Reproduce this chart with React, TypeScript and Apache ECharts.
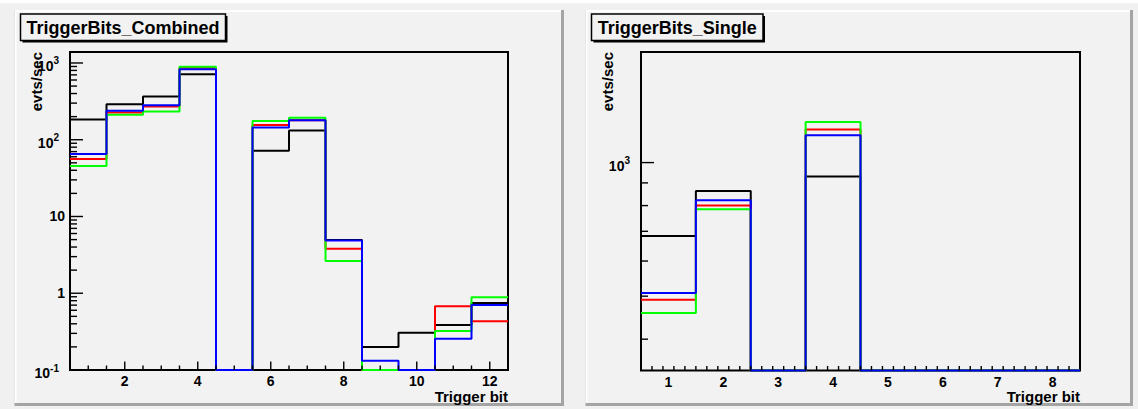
import React, { useEffect, useRef } from "react";
import * as echarts from "echarts";

// ---------------- data ----------------
const combinedBins = [1, 2, 3, 4, 5, 6, 7, 8, 9, 10, 11, 12];
const combinedBlack = [184, 291, 365, 713, 0, 72, 132, 4.95, 0.2, 0.305, 0.387, 0.748];
const combinedRed = [56, 226, 270, 869, 0, 155, 180, 3.8, 0, 0, 0.678, 0.433];
const combinedGreen = [45.5, 211, 233, 895, 0, 175, 193, 2.63, 0, 0, 0.321, 0.887];
const combinedBlue = [65, 238, 282, 828, 0, 144, 180, 4.88, 0.132, 0, 0.255, 0.705];

const singleBins = [1, 2, 3, 4, 5, 6, 7, 8];
const singleBlack = [683, 863, 0, 930, 0, 0, 0, 0];
const singleRed = [491, 800, 0, 1188, 0, 0, 0, 0];
const singleGreen = [458, 785, 0, 1234, 0, 0, 0, 0];
const singleBlue = [508, 822, 0, 1152, 0, 0, 0, 0];

const seriesColors = ["#000000", "#ff0000", "#00ff00", "#0000ff"];

const combinedXRange = [0.5, 12.5];
const combinedYRange = [0.1, 1390];
const singleXRange = [0.5, 8.5];
const singleYRange = [340, 1775];

const combinedXMajor = [2, 4, 6, 8, 10, 12];
const combinedXLabels = ["2", "4", "6", "8", "10", "12"];
const combinedXMinorStep = 0.5;
const combinedYMajor = [0.1, 1, 10, 100, 1000];
const combinedYLabelBase = ["10", "1", "10", "10", "10"];
const combinedYLabelExp = ["-1", "", "", "2", "3"];

const singleXMajor = [1, 2, 3, 4, 5, 6, 7, 8];
const singleXLabels = ["1", "2", "3", "4", "5", "6", "7", "8"];
const singleXMinorStep = 0.2;
const singleYMajor = [1000];
const singleYLabelBase = ["10"];
const singleYLabelExp = ["3"];

const titles = ["TriggerBits_Combined", "TriggerBits_Single"];
const xTitle = "Trigger bit";
const yTitle = "evts/sec";

// ---------------- helpers ----------------
const FONT = '"Liberation Sans", Arial, Helvetica, sans-serif';

function textWidth(str: string, font: string): number {
  const c = document.createElement("canvas");
  const ctx = c.getContext("2d");
  if (!ctx) return str.length * 6;
  ctx.font = font;
  return ctx.measureText(str).width;
}

function stepPoints(bins: number[], vals: number[], ymin: number) {
  const pts: number[][] = [];
  bins.forEach((b, i) => {
    const v = vals[i] > ymin ? vals[i] : ymin;
    pts.push([b - 0.5, v], [b + 0.5, v]);
  });
  return pts;
}

function tickItems(
  xr: number[],
  yr: number[],
  xMajor: number[],
  xMinorStep: number,
  yMajor: number[],
  xMajLen: number,
  xMinLen: number,
  yMajLen: number,
  yMinLen: number
) {
  const items: number[][] = [];
  const eps = 1e-6;
  const n = Math.round((xr[1] - xr[0]) / xMinorStep);
  for (let i = 1; i < n; i++) {
    const x = xr[0] + i * xMinorStep;
    const isMajor = xMajor.some((m) => Math.abs(m - x) < eps);
    items.push([x, yr[0], isMajor ? xMajLen : xMinLen, 0]);
  }
  const eLo = Math.floor(Math.log10(yr[0]));
  const eHi = Math.ceil(Math.log10(yr[1]));
  for (let e = eLo; e <= eHi; e++) {
    for (let k = 1; k <= 9; k++) {
      const v = k * Math.pow(10, e);
      if (v < yr[0] * (1 - eps) || v > yr[1] * (1 + eps)) continue;
      const isMajor = yMajor.some((m) => Math.abs(m - v) / m < eps);
      items.push([xr[0], v, isMajor ? yMajLen : yMinLen, 1]);
    }
  }
  return items;
}

function makePanel(
  idx: number,
  bins: number[],
  lines: number[][],
  xr: number[],
  yr: number[],
  xMajor: number[],
  xLabels: string[],
  xMinorStep: number,
  yMajor: number[],
  yBase: string[],
  yExp: string[],
  xMajLen: number
) {
  const series: any[] = [];
  lines.forEach((vals, i) => {
    series.push({
      type: "line",
      xAxisIndex: idx,
      yAxisIndex: idx,
      data: stepPoints(bins, vals, yr[0]),
      showSymbol: false,
      symbol: "none",
      clip: false,
      z: 3 + i,
      lineStyle: { color: seriesColors[i], width: 2 },
      itemStyle: { color: seriesColors[i] },
    });
  });
  const ticks = tickItems(xr, yr, xMajor, xMinorStep, yMajor, xMajLen, 4.5, 13, 7);
  series.push({
    type: "custom",
    xAxisIndex: idx,
    yAxisIndex: idx,
    data: ticks,
    z: 10,
    silent: true,
    renderItem: (params: any, api: any) => {
      const x = api.value(0);
      const y = api.value(1);
      const len = api.value(2);
      const dir = api.value(3);
      const p = api.coord([x, y]);
      const shape =
        dir === 0
          ? { x1: p[0], y1: p[1], x2: p[0], y2: p[1] - len }
          : { x1: p[0], y1: p[1], x2: p[0] + len, y2: p[1] };
      return { type: "line", shape, style: { stroke: "#000", lineWidth: 1.4 } };
    },
  });
  const labelData: number[][] = [];
  xMajor.forEach((x, i) => labelData.push([x, yr[0], 0, i]));
  yMajor.forEach((y, i) => labelData.push([xr[0], y, 1, i]));
  const baseFont = `bold 14px ${FONT}`;
  const supFont = `bold 10px ${FONT}`;
  series.push({
    type: "custom",
    xAxisIndex: idx,
    yAxisIndex: idx,
    data: labelData,
    z: 10,
    silent: true,
    renderItem: (params: any, api: any) => {
      const x = api.value(0);
      const y = api.value(1);
      const dir = api.value(2);
      const li = api.value(3);
      const p = api.coord([x, y]);
      if (dir === 0) {
        return {
          type: "text",
          x: p[0],
          y: p[1] + 11,
          style: { text: xLabels[li], font: baseFont, fill: "#000", align: "center", verticalAlign: "middle" },
        };
      }
      const exp = yExp[li];
      if (!exp) {
        return {
          type: "text",
          x: p[0] - 5,
          y: p[1],
          style: { text: yBase[li], font: baseFont, fill: "#000", align: "right", verticalAlign: "middle" },
        };
      }
      const supW = textWidth(exp, supFont);
      return {
        type: "group",
        children: [
          {
            type: "text",
            x: p[0] - 11 - supW,
            y: p[1] + 3,
            style: { text: yBase[li], font: baseFont, fill: "#000", align: "right", verticalAlign: "middle" },
          },
          {
            type: "text",
            x: p[0] - 11,
            y: p[1] - 2,
            style: { text: exp, font: supFont, fill: "#000", align: "right", verticalAlign: "middle" },
          },
        ],
      };
    },
  });
  return series;
}

function padGraphics(x: number, y: number, w: number, h: number) {
  return [
    { type: "rect", z: -30, shape: { x: x - 2, y: y - 2, width: w + 5, height: h + 5 }, style: { fill: "#a4a4a4" } },
    { type: "rect", z: -29, shape: { x: x - 2, y: y - 2, width: w + 2, height: h + 2 }, style: { fill: "#ffffff" } },
    { type: "rect", z: -28, shape: { x, y, width: w, height: h }, style: { fill: "#f2f2f2" } },
  ];
}

function titleBox(x: number, y: number, w: number, h: number, text: string) {
  return [
    { type: "rect", z: -20, shape: { x: x + 2, y: y + 2, width: w, height: h }, style: { fill: "#000" } },
    {
      type: "rect",
      z: -19,
      shape: { x, y, width: w, height: h },
      style: { fill: "#f2f2f2", stroke: "#000", lineWidth: 1.5 },
    },
    {
      type: "text",
      z: 20,
      x: x + w / 2,
      y: y + h / 2 + 0.5,
      style: { text, font: `bold 18px ${FONT}`, fill: "#000", align: "center", verticalAlign: "middle" },
    },
  ];
}

export default function App() {
  const ref = useRef<HTMLDivElement>(null);
  useEffect(() => {
    if (!ref.current) return;
    const chart = echarts.init(ref.current, null, { renderer: "svg" });

    const gridL = { left: 70, top: 52, width: 438, height: 318 };
    const gridR = { left: 641, top: 52, width: 439, height: 318.5 };

    const hiddenAxis = {
      axisLine: { show: false },
      axisTick: { show: false },
      axisLabel: { show: false },
      splitLine: { show: false },
    };

    const series = [
      ...makePanel(
        0,
        combinedBins,
        [combinedBlack, combinedRed, combinedGreen, combinedBlue],
        combinedXRange,
        combinedYRange,
        combinedXMajor,
        combinedXLabels,
        combinedXMinorStep,
        combinedYMajor,
        combinedYLabelBase,
        combinedYLabelExp,
        8.5
      ),
      ...makePanel(
        1,
        singleBins,
        [singleBlack, singleRed, singleGreen, singleBlue],
        singleXRange,
        singleYRange,
        singleXMajor,
        singleXLabels,
        singleXMinorStep,
        singleYMajor,
        singleYLabelBase,
        singleYLabelExp,
        9.5
      ),
    ];

    const graphics: any[] = [
      { type: "rect", z: -40, shape: { x: 0, y: 0, width: 1138, height: 409 }, style: { fill: "#ffffff" } },
      { type: "line", z: -39, shape: { x1: 0, y1: 4, x2: 1138, y2: 4 }, style: { stroke: "#e4e4e4", lineWidth: 1 } },
      { type: "rect", z: -38, shape: { x: 0, y: 5, width: 1138, height: 404 }, style: { fill: "#f0f0f0" } },
      ...padGraphics(16.5, 12, 544.5, 391),
      ...padGraphics(587.5, 12, 542.5, 391),
      ...titleBox(20.5, 14, 205, 26.5, titles[0]),
      ...titleBox(591.5, 14, 171.5, 26.5, titles[1]),
      {
        type: "text",
        z: 20,
        x: 36,
        y: 52,
        rotation: Math.PI / 2,
        style: { text: yTitle, font: `bold 15px ${FONT}`, fill: "#000", align: "right", verticalAlign: "middle" },
      },
      {
        type: "text",
        z: 20,
        x: 607,
        y: 52,
        rotation: Math.PI / 2,
        style: { text: yTitle, font: `bold 15px ${FONT}`, fill: "#000", align: "right", verticalAlign: "middle" },
      },
      {
        type: "text",
        z: 20,
        x: 508,
        y: 396,
        style: { text: xTitle, font: `bold 15px ${FONT}`, fill: "#000", align: "right", verticalAlign: "middle" },
      },
      {
        type: "text",
        z: 20,
        x: 1080,
        y: 396,
        style: { text: xTitle, font: `bold 15px ${FONT}`, fill: "#000", align: "right", verticalAlign: "middle" },
      },
    ];

    chart.setOption({
      animation: false,
      backgroundColor: "#ffffff",
      graphic: { elements: graphics },
      grid: [
        { ...gridL, show: true, borderColor: "#000", borderWidth: 2, backgroundColor: "transparent", z: 1 },
        { ...gridR, show: true, borderColor: "#000", borderWidth: 2, backgroundColor: "transparent", z: 1 },
      ],
      xAxis: [
        { type: "value", gridIndex: 0, min: combinedXRange[0], max: combinedXRange[1], ...hiddenAxis },
        { type: "value", gridIndex: 1, min: singleXRange[0], max: singleXRange[1], ...hiddenAxis },
      ],
      yAxis: [
        { type: "log", logBase: 10, gridIndex: 0, min: combinedYRange[0], max: combinedYRange[1], ...hiddenAxis },
        { type: "log", logBase: 10, gridIndex: 1, min: singleYRange[0], max: singleYRange[1], ...hiddenAxis },
      ],
      series,
    });

    return () => {
      chart.dispose();
    };
  }, []);

  return (
    <div ref={ref} style={{ position: "fixed", left: 0, top: 0, width: 1138, height: 409, background: "#fff" }} />
  );
}
